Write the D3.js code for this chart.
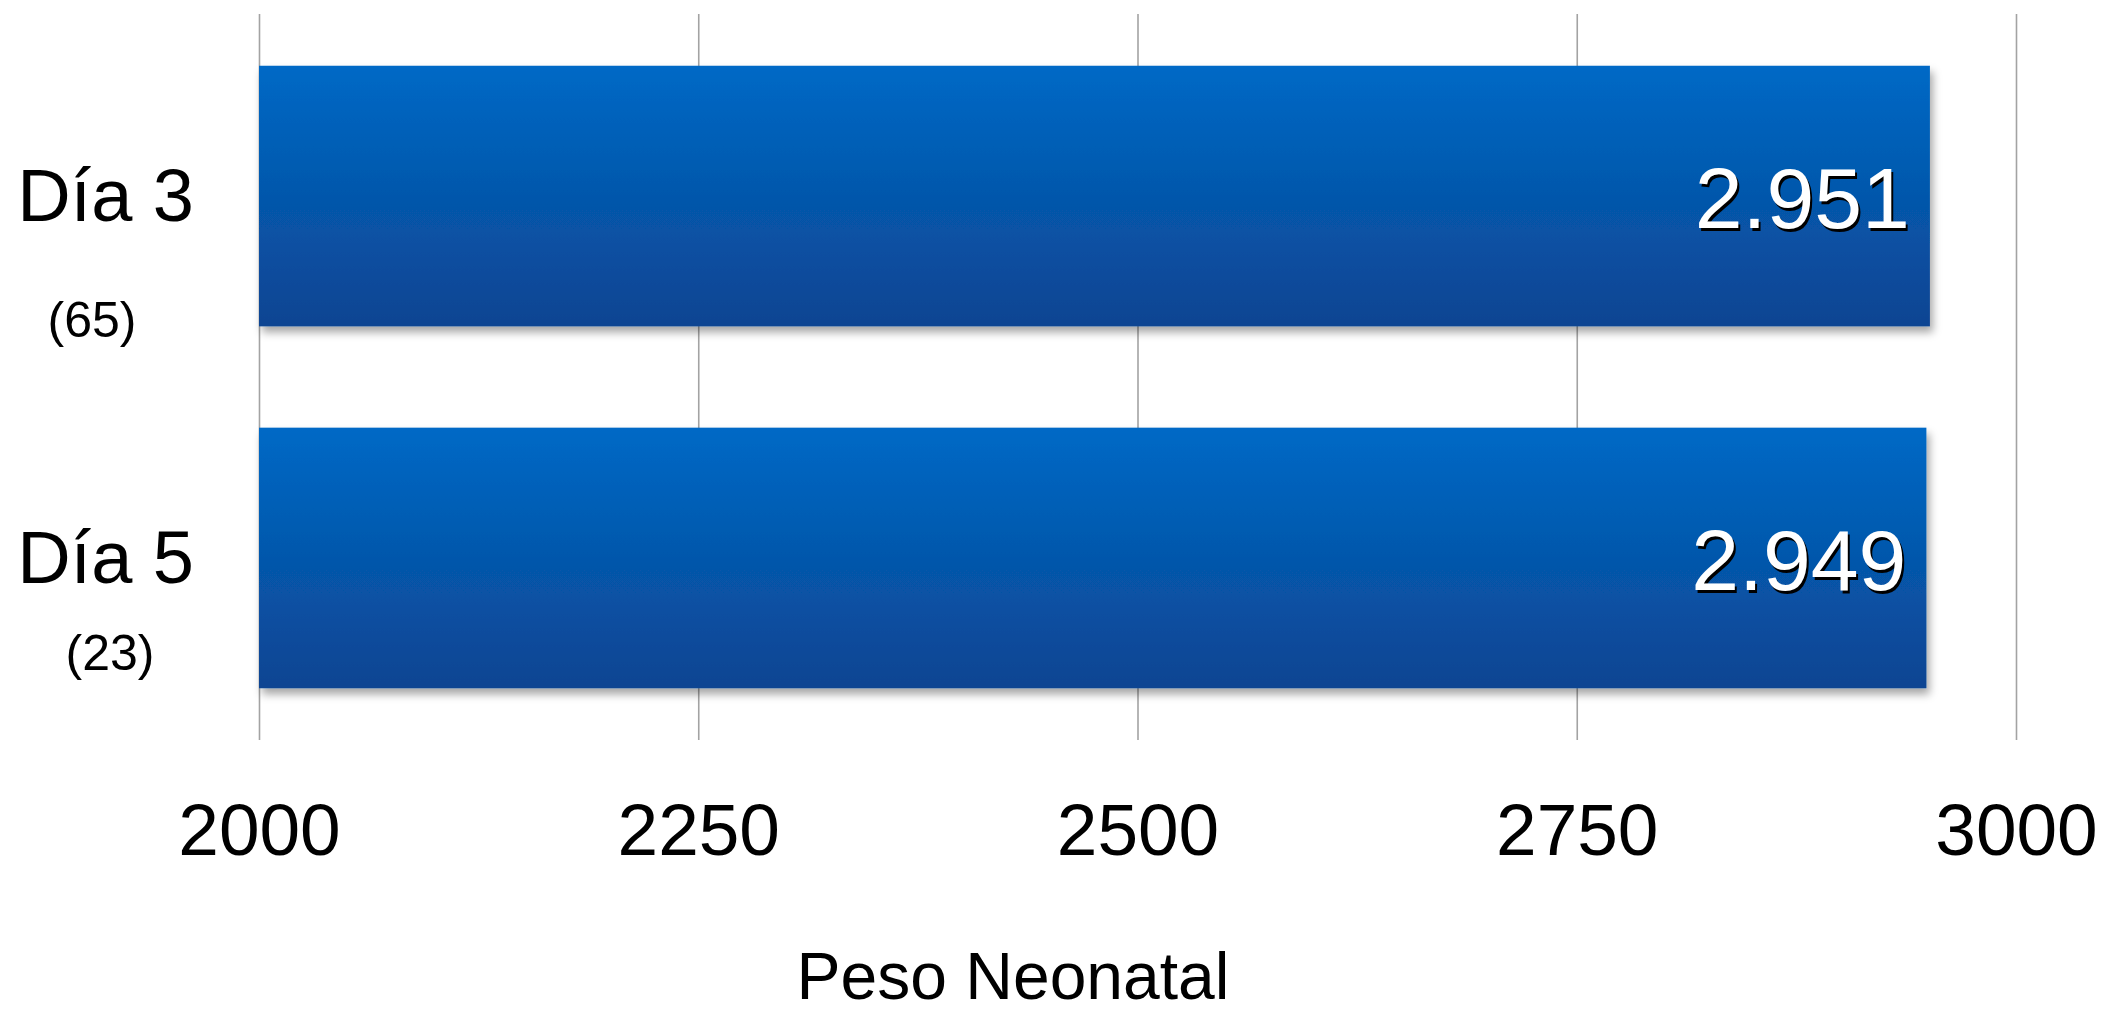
<!DOCTYPE html>
<html>
<head>
<meta charset="utf-8">
<script src="https://cdn.jsdelivr.net/npm/d3@7"></script>
<style>
  html, body { margin: 0; padding: 0; background: #fff; }
  svg text { font-family: "Liberation Sans", Arial, sans-serif; }
</style>
</head>
<body>
<svg id="chart" width="2122" height="1015"></svg>
<script>
// data
var categories = ["Día 3", "Día 5"];
var sampleSizes = ["(65)", "(23)"];
var pesoValues = [2951, 2949];
var valueLabels = ["2.951", "2.949"];
var tickValues = [2000, 2250, 2500, 2750, 3000];
var axisTitle = "Peso Neonatal";

// layout
var plotTop = 14, plotBottom = 740;
var nX = [92, 110], nDy = [141, 112];   // where the (n) labels sit

var svg = d3.select("#chart");

var x = d3.scaleLinear().domain([2000, 3000]).range([259, 2016]);
var y = d3.scaleBand()
    .domain(categories)
    .range([plotTop, plotBottom])
    .paddingInner(0.28)
    .paddingOuter(0.143);

var defs = svg.append("defs");
var grad = defs.append("linearGradient")
    .attr("id", "barGrad")
    .attr("x1", 0).attr("y1", 0).attr("x2", 0).attr("y2", 1);
grad.append("stop").attr("offset", "0%").attr("stop-color", "#0269c6");
grad.append("stop").attr("offset", "45%").attr("stop-color", "#0559ae");
grad.append("stop").attr("offset", "100%").attr("stop-color", "#0b4492");

defs.append("filter")
    .attr("id", "barShadow")
    .attr("x", "-5%").attr("y", "-10%").attr("width", "115%").attr("height", "130%")
    .append("feDropShadow")
    .attr("dx", 3).attr("dy", 6)
    .attr("stdDeviation", 4)
    .attr("flood-color", "#000")
    .attr("flood-opacity", 0.35);

// gridlines + tick labels
var xAxis = d3.axisBottom(x)
    .tickValues(tickValues)
    .tickFormat(d3.format("d"))
    .tickSizeInner(-(plotBottom - plotTop))
    .tickSizeOuter(0)
    .tickPadding(63);

var gx = svg.append("g")
    .attr("transform", "translate(0," + plotBottom + ")")
    .call(xAxis);
gx.select(".domain").remove();
gx.selectAll(".tick line")
    .attr("stroke", "#a3a3a3")
    .attr("stroke-width", 1.6);
gx.selectAll(".tick text")
    .attr("fill", "#000")
    .style("font-size", "73px");

// bars
svg.selectAll("rect.bar")
    .data(pesoValues)
    .enter()
    .append("rect")
    .attr("class", "bar")
    .attr("x", x(2000))
    .attr("y", function (d, i) { return y(categories[i]); })
    .attr("width", function (d) { return x(d) - x(2000); })
    .attr("height", y.bandwidth())
    .attr("fill", "url(#barGrad)")
    .attr("filter", "url(#barShadow)");

// value labels with shadow
var labelY = function (d, i) { return y(categories[i]) + y.bandwidth() / 2; };

[["#000", 2, 3], ["#fff", 0, 0]].forEach(function (s) {
    svg.selectAll(null)
        .data(pesoValues)
        .enter()
        .append("text")
        .attr("x", function (d) { return x(d) - 20 + s[1]; })
        .attr("y", function (d, i) { return labelY(d, i) + s[2]; })
        .attr("dy", "0.37em")
        .attr("text-anchor", "end")
        .attr("fill", s[0])
        .style("font-size", "86px")
        .text(function (d, i) { return valueLabels[i]; });
});

// category labels
svg.selectAll("text.cat")
    .data(categories)
    .enter()
    .append("text")
    .attr("class", "cat")
    .attr("x", 194)
    .attr("y", function (d) { return y(d) + y.bandwidth() / 2 + 25; })
    .attr("text-anchor", "end")
    .attr("fill", "#000")
    .style("font-size", "74px")
    .text(function (d) { return d; });

svg.selectAll("text.n")
    .data(sampleSizes)
    .enter()
    .append("text")
    .attr("class", "n")
    .attr("x", function (d, i) { return nX[i]; })
    .attr("y", function (d, i) { return y(categories[i]) + y.bandwidth() / 2 + nDy[i]; })
    .attr("text-anchor", "middle")
    .attr("fill", "#000")
    .style("font-size", "50px")
    .text(function (d) { return d; });

// axis title
svg.append("text")
    .attr("x", 1013)
    .attr("y", 999)
    .attr("text-anchor", "middle")
    .attr("fill", "#000")
    .style("font-size", "66px")
    .text(axisTitle);
</script>
</body>
</html>
